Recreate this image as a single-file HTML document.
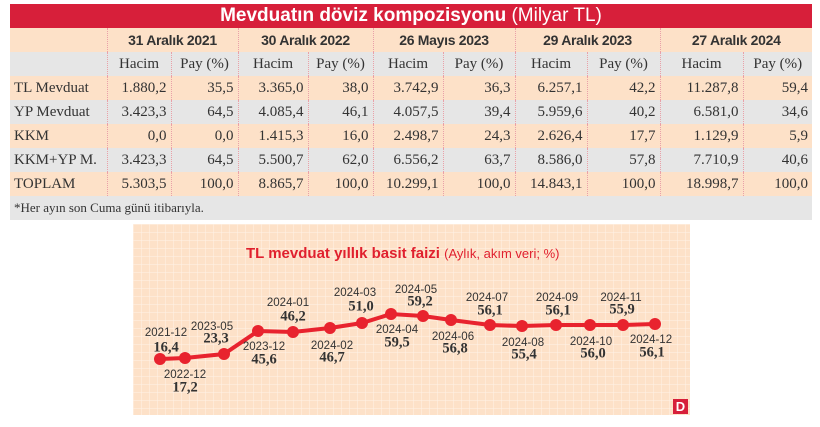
<!DOCTYPE html>
<html><head><meta charset="utf-8"><style>
body{margin:0;width:820px;height:427px;background:#fff;position:relative;overflow:hidden;font-family:"Liberation Serif",serif}
.hdr{position:absolute;left:10px;top:4px;width:802px;height:24px;background:#d71f3a;color:#fff;font-family:"Liberation Sans",sans-serif;font-size:19px;line-height:24px;text-align:center}
table{position:absolute;left:10px;top:28px;border-collapse:collapse;table-layout:fixed;width:802px}
td{padding:0 4px;height:24px;font-size:15px;color:#333;text-align:right;border-left:1px dotted #e9a0a8;white-space:nowrap}
td:first-child{border-left:none;text-align:left;font-size:15px}
tr.p td{background:#fde1c8}
tr.g td{background:#e6e6e6}
tr.d td{font-family:"Liberation Sans",sans-serif;font-weight:bold;font-size:14px;text-align:center;letter-spacing:-0.3px}
tr.s td{text-align:center;font-size:15px}
td.f{text-align:left;font-size:13px}
</style></head><body>
<div class="hdr"><b>Mevduatın döviz kompozisyonu</b> (Milyar TL)</div>
<table>
<colgroup><col style="width:97px"><col style="width:64px"><col style="width:67px"><col style="width:70px"><col style="width:65px"><col style="width:70px"><col style="width:72px"><col style="width:72px"><col style="width:73px"><col style="width:83px"><col style="width:69px"></colgroup>
<tr class="p d"><td></td><td colspan="2">31 Aralık 2021</td><td colspan="2">30 Aralık 2022</td><td colspan="2">26 Mayıs 2023</td><td colspan="2">29 Aralık 2023</td><td colspan="2">27 Aralık 2024</td></tr>
<tr class="g s"><td></td><td>Hacim</td><td>Pay (%)</td><td>Hacim</td><td>Pay (%)</td><td>Hacim</td><td>Pay (%)</td><td>Hacim</td><td>Pay (%)</td><td>Hacim</td><td>Pay (%)</td></tr>
<tr class="p"><td>TL Mevduat</td><td>1.880,2</td><td>35,5</td><td>3.365,0</td><td>38,0</td><td>3.742,9</td><td>36,3</td><td>6.257,1</td><td>42,2</td><td>11.287,8</td><td>59,4</td></tr>
<tr class="g"><td>YP Mevduat</td><td>3.423,3</td><td>64,5</td><td>4.085,4</td><td>46,1</td><td>4.057,5</td><td>39,4</td><td>5.959,6</td><td>40,2</td><td>6.581,0</td><td>34,6</td></tr>
<tr class="p"><td>KKM</td><td>0,0</td><td>0,0</td><td>1.415,3</td><td>16,0</td><td>2.498,7</td><td>24,3</td><td>2.626,4</td><td>17,7</td><td>1.129,9</td><td>5,9</td></tr>
<tr class="g"><td>KKM+YP M.</td><td>3.423,3</td><td>64,5</td><td>5.500,7</td><td>62,0</td><td>6.556,2</td><td>63,7</td><td>8.586,0</td><td>57,8</td><td>7.710,9</td><td>40,6</td></tr>
<tr class="p"><td>TOPLAM</td><td>5.303,5</td><td>100,0</td><td>8.865,7</td><td>100,0</td><td>10.299,1</td><td>100,0</td><td>14.843,1</td><td>100,0</td><td>18.998,7</td><td>100,0</td></tr>
<tr class="g"><td class="f" colspan="11" style="border-left:none">*Her ayın son Cuma günü itibarıyla.</td></tr>
</table>
<svg style="position:absolute;left:0;top:0" width="820" height="427">
<defs><pattern id="gr" width="8" height="8" patternUnits="userSpaceOnUse" x="133" y="224"><rect width="8" height="8" fill="#fde1c8"/><path d="M0 0H8M0 0V8" stroke="#fff3e8" stroke-width="1"/></pattern></defs>
<rect x="133" y="224" width="557" height="191" fill="url(#gr)"/>
<text x="246" y="258" font-family="Liberation Sans,sans-serif" font-size="15" fill="#e0202e"><tspan font-weight="bold">TL mevduat yıllık basit faizi</tspan> <tspan font-size="13">(Aylık, akım veri; %)</tspan></text>
<polyline fill="none" stroke="#e8232e" stroke-width="4" points="160,359 185,358 224,354 258,331 293,332 330,328 362,323 391,314 423,316 451,320 490,325 522,326 556,325 590,325 623,325 655,324"/>
<g fill="#e8232e"><circle cx="160" cy="359" r="6"/><circle cx="185" cy="358" r="6"/><circle cx="224" cy="354" r="6"/><circle cx="258" cy="331" r="6"/><circle cx="293" cy="332" r="6"/><circle cx="330" cy="328" r="6"/><circle cx="362" cy="323" r="6"/><circle cx="391" cy="314" r="6"/><circle cx="423" cy="316" r="6"/><circle cx="451" cy="320" r="6"/><circle cx="490" cy="325" r="6"/><circle cx="522" cy="326" r="6"/><circle cx="556" cy="325" r="6"/><circle cx="590" cy="325" r="6"/><circle cx="623" cy="325" r="6"/><circle cx="655" cy="324" r="6"/></g>
<g font-family="Liberation Sans,sans-serif" font-size="11.5" fill="#333" text-anchor="middle" dominant-baseline="middle">
<text x="166" y="333">2021-12</text><text x="185" y="375">2022-12</text><text x="212" y="327">2023-05</text><text x="264" y="347">2023-12</text><text x="288" y="303">2024-01</text><text x="332" y="346">2024-02</text><text x="355" y="293">2024-03</text><text x="397" y="330">2024-04</text><text x="416" y="290">2024-05</text><text x="453" y="337">2024-06</text><text x="487" y="298">2024-07</text><text x="523" y="343">2024-08</text><text x="557" y="298">2024-09</text><text x="591" y="342">2024-10</text><text x="621" y="298">2024-11</text><text x="651" y="340">2024-12</text>
</g>
<g font-family="Liberation Serif,serif" font-weight="bold" font-size="14.5" fill="#333" text-anchor="middle" dominant-baseline="middle">
<text x="166" y="348">16,4</text><text x="185" y="388">17,2</text><text x="216" y="339">23,3</text><text x="264" y="360">45,6</text><text x="293" y="317">46,2</text><text x="332" y="358">46,7</text><text x="361" y="307">51,0</text><text x="397" y="343">59,5</text><text x="420" y="302">59,2</text><text x="455" y="349">56,8</text><text x="490" y="311">56,1</text><text x="524" y="355">55,4</text><text x="558" y="311">56,1</text><text x="593" y="354">56,0</text><text x="622" y="310">55,9</text><text x="652" y="353">56,1</text>
</g>
<rect x="673" y="399" width="15" height="15" fill="#d71f3a"/>
<text x="680.5" y="411" font-family="Liberation Sans,sans-serif" font-weight="bold" font-size="13" fill="#fff" text-anchor="middle">D</text>
</svg>
</body></html>
